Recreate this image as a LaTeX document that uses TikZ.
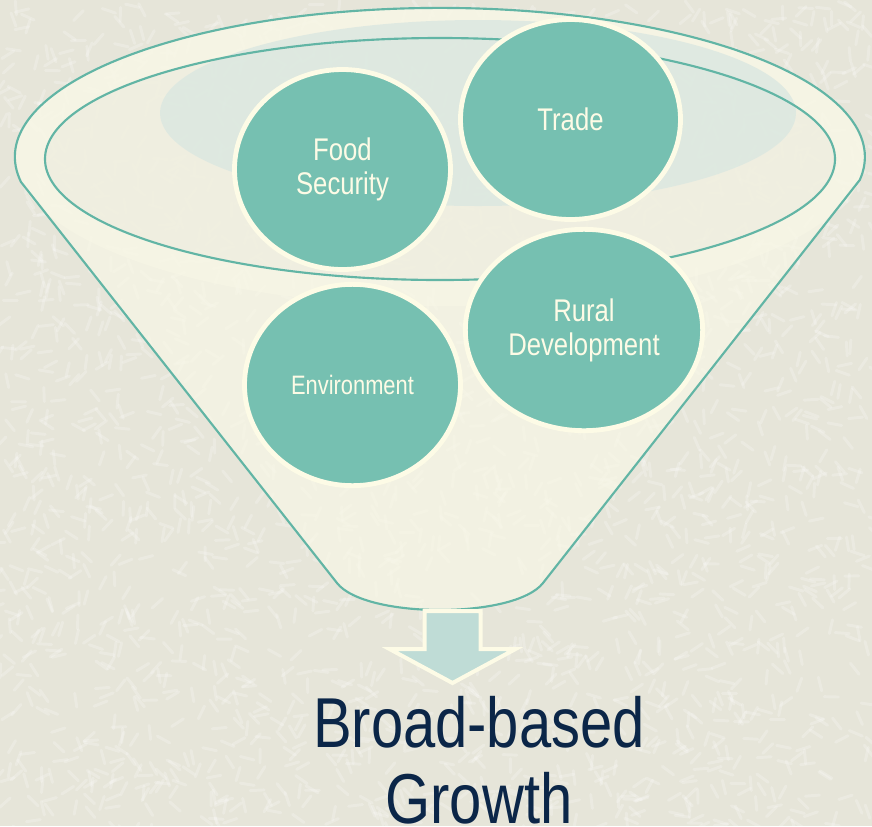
\documentclass[tikz,border=0pt]{standalone}
\usepackage{fontspec}
\setmainfont{Liberation Sans}[FakeStretch=0.82]
\usetikzlibrary{shapes.geometric}

\definecolor{paper}{HTML}{E6E5D9}
\definecolor{cream}{HTML}{FDFBE6}
\definecolor{funnelfill}{HTML}{F8F7E6}
\definecolor{glow}{HTML}{DCE8E1}
\definecolor{rimline}{HTML}{62B5A5}
\definecolor{topicfill}{HTML}{76C0B1}
\definecolor{arrowfill}{HTML}{BFDCD6}
\definecolor{navy}{HTML}{0B2648}

\tikzset{every picture/.style={line width=0.75pt},
  rim/.style={draw=rimline,line width=1.6pt},
  topic/.style={ellipse,draw=cream,line width=3.6pt,fill=topicfill,text=cream,
    align=center,inner sep=0pt,font=\fontsize{23.5}{25.5}\selectfont}}

\begin{document}
\begin{tikzpicture}[x=0.75pt,y=0.75pt,yscale=-1]
                      \useasboundingbox (0,0) rectangle (872,826);
                      \fill[paper] (0,0) rectangle (872,826);
                      \pgfmathsetseed{12}
                      \foreach \i in {1,...,2600}{
                        \pgfmathsetmacro\px{rnd*872}
                        \pgfmathsetmacro\py{rnd*826}
                        \pgfmathsetmacro\pa{rnd*180}
                        \draw[white,opacity=0.22,line width=2.2pt,line cap=round] (\px,\py) -- ++(\pa:14);
                      }
                      \fill[funnelfill,opacity=.7] (21,182) arc[start angle=170.3,end angle=368.9,x radius=425,y radius=149]
                        -- (543,583) .. controls (515,619) and (365,619) .. (337,583) -- cycle;
                      \fill[funnelfill,opacity=.5] (440,157) ellipse[x radius=425,y radius=149];
                      \fill[paper,opacity=.35] (440,159) ellipse[x radius=395,y radius=121];
                      \fill[glow,opacity=.85] (478,113) ellipse[x radius=318,y radius=93];
                      \draw[rim] (21,182) arc[start angle=170.3,end angle=368.9,x radius=425,y radius=149]
                        -- (543,583) .. controls (515,619) and (365,619) .. (337,583) -- cycle;
                      \draw[rim] (440,159) ellipse[x radius=395,y radius=121];
                      \node[topic,minimum width=162pt,minimum height=150pt] (food) at (342.5,169.5) {Food\\Security};
                      \node[topic,minimum width=165pt,minimum height=150pt] (trade) at (570.5,119.5) {Trade};
                      \node[topic,minimum width=178pt,minimum height=151pt] (rural) at (584,330) {Rural\\Development};
                      \node[topic,minimum width=162pt,minimum height=151pt,font=\fontsize{20}{22}\selectfont] (env) at (352.5,385) {Environment};
                      \coordinate (spout) at (452.5,611);
                      \node[anchor=north,inner sep=0pt,align=center,text=navy,font=\fontsize{53}{57}\selectfont] (growth) at (479,696) {Broad-based\\Growth};
                      \draw[cream,line width=3pt,fill=arrowfill] (spout) ++(-28,0) -- ++(56,0) -- ++(0,38) -- ++(35,0)
                        -- ++(-63,34) -- ++(-63,-34) -- ++(35,0) -- cycle;
                  \end{tikzpicture}
\end{document}
